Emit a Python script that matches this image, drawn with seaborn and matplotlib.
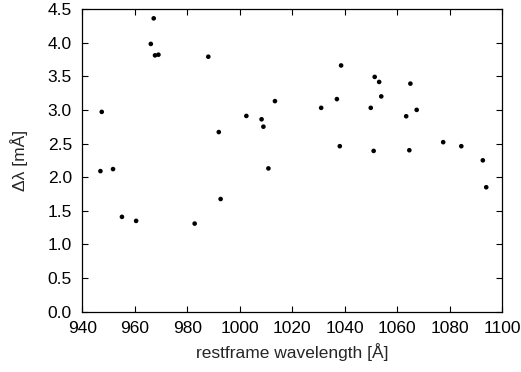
import matplotlib
matplotlib.use("Agg")
import matplotlib.pyplot as plt
import seaborn as sns
import pandas as pd

wavelength = [947.4, 946.9, 951.7, 955.1, 960.5, 966.1, 967.2, 967.7, 969.0,
              982.8, 988.0, 992.0, 992.7, 1002.5, 1008.3, 1009.0, 1010.9, 1013.4,
              1031.0, 1037.0, 1038.1, 1038.6, 1049.9, 1051.4, 1051.0, 1053.1,
              1053.9, 1063.4, 1065.0, 1064.6, 1067.4, 1077.5, 1084.4, 1092.6, 1093.9]
delta_lambda = [2.97, 2.09, 2.12, 1.41, 1.35, 3.98, 4.36, 3.81, 3.82,
                1.31, 3.79, 2.67, 1.675, 2.91, 2.86, 2.75, 2.13, 3.13,
                3.03, 3.16, 2.46, 3.66, 3.03, 3.49, 2.39, 3.415,
                3.20, 2.905, 3.39, 2.40, 3.00, 2.52, 2.46, 2.25, 1.85]
xticks = [940, 960, 980, 1000, 1020, 1040, 1060, 1080, 1100]
yticks = [0.0, 0.5, 1.0, 1.5, 2.0, 2.5, 3.0, 3.5, 4.0, 4.5]

df = pd.DataFrame({"wl": wavelength, "dl": delta_lambda})

sns.set_style("ticks")
plt.rcParams["font.family"] = ["Liberation Sans", "DejaVu Sans"]

fs = 12.5
fig = plt.figure(figsize=(5.21, 3.72), dpi=100)
ax = fig.add_axes([0.158, 0.162, 0.806, 0.814])
sns.scatterplot(data=df, x="wl", y="dl", ax=ax, color="black", s=11,
                edgecolor="none", linewidth=0)
ax.set_xlim(940, 1100)
ax.set_ylim(0, 4.5)
ax.set_xticks(xticks)
ax.set_yticks(yticks)
ax.set_yticklabels([f"{v:.1f}" for v in yticks])
ax.tick_params(direction="in", top=True, right=True, length=4, width=0.8,
               labelsize=fs, colors="black")
ax.tick_params(axis="x", pad=6.5)
ax.tick_params(axis="y", pad=7.5)
for s in ax.spines.values():
    s.set_visible(True)
    s.set_linewidth(0.9)
    s.set_color("black")
ax.set_xlabel("restframe wavelength [Å]", fontsize=fs, labelpad=5)
ax.set_ylabel("Δλ [mÅ]", fontsize=fs, labelpad=14)
fig.savefig("out.png", dpi=100)
